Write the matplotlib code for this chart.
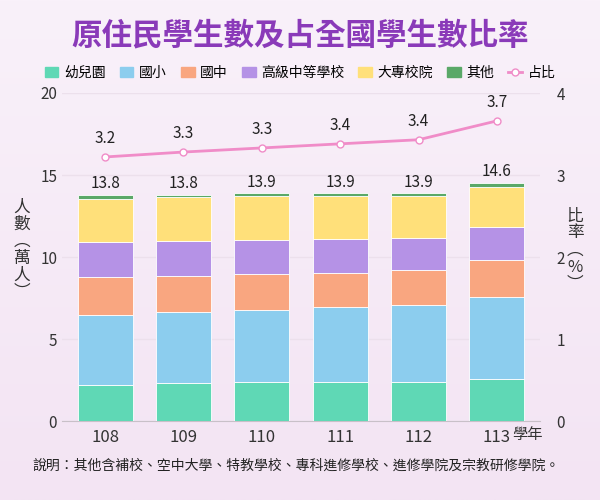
import matplotlib.pyplot as plt
import numpy as np
from matplotlib.lines import Line2D
from matplotlib.patches import Patch

plt.rcParams['font.family'] = 'Noto Sans CJK TC'

years = ['108', '109', '110', '111', '112', '113']
kindergarten = [2.21, 2.32, 2.35, 2.35, 2.40, 2.54]
elementary = [4.27, 4.30, 4.42, 4.58, 4.69, 5.00]
junior_high = [2.28, 2.24, 2.19, 2.11, 2.09, 2.25]
senior_high = [2.15, 2.09, 2.05, 2.03, 1.98, 2.01]
college = [2.60, 2.68, 2.69, 2.63, 2.54, 2.44]
other = [0.29, 0.17, 0.20, 0.20, 0.20, 0.30]
totals = [13.8, 13.8, 13.9, 13.9, 13.9, 14.6]
ratio = [3.22, 3.28, 3.33, 3.38, 3.43, 3.66]

series = [('幼兒園', kindergarten, '#5fd8b5'),
          ('國小', elementary, '#8ccdee'),
          ('國中', junior_high, '#f9a680'),
          ('高級中等學校', senior_high, '#b592e6'),
          ('大專校院', college, '#ffe07a'),
          ('其他', other, '#5aa868')]

fig = plt.figure(figsize=(6, 5), dpi=100)
# soft lavender background
bg = np.linspace(0, 1, 256).reshape(-1, 1)
bg_ax = fig.add_axes([0, 0, 1, 1], zorder=-10)
bg_ax.imshow(bg, aspect='auto', cmap=plt.matplotlib.colors.LinearSegmentedColormap.from_list(
    'bg', ['#f9f1fa', '#f3e4f3']), extent=[0, 1, 0, 1])
bg_ax.axis('off')

ax = fig.add_axes([62 / 600, 79 / 500, 478 / 600, 328 / 500])
ax.patch.set_alpha(0)
x = np.arange(len(years))
bottom = np.zeros(len(years))
for name, vals, col in series:
    ax.bar(x, vals, 0.7, bottom=bottom, color=col, edgecolor='white', linewidth=0.6, label=name, zorder=3)
    bottom += np.array(vals)
for xi, b, t in zip(x, bottom, totals):
    ax.text(xi, b + 0.15, f'{t:.1f}', ha='center', va='bottom', fontsize=11, color='#222222', zorder=5)

ax.set_xlim(-0.55, 5.55)
ax.set_ylim(0, 20)
ax.set_yticks([0, 5, 10, 15, 20])
ax.set_xticks(x)
ax.set_xticklabels(years, fontsize=12)
ax.grid(axis='y', color='#ece0ec', linewidth=1, zorder=0)
for s in ['top', 'right', 'left']:
    ax.spines[s].set_visible(False)
ax.spines['bottom'].set_color('#c8c0c8')
ax.tick_params(axis='both', length=0, labelsize=11, colors='#333333')
ax.tick_params(axis='x', pad=6, labelsize=12)
fig.text(512 / 600, 1 - 434 / 500, '學年', fontsize=11, color='#333333', va='center')

ax2 = ax.twinx()
ax2.set_ylim(0, 4)
ax2.set_yticks([0, 1, 2, 3, 4])
ax2.tick_params(length=0, labelsize=11, colors='#333333', pad=12)
for s in ax2.spines.values():
    s.set_visible(False)
ax2.plot(x, ratio, color='#f08cc8', linewidth=2, marker='o', markersize=5,
         markerfacecolor='white', markeredgecolor='#f08cc8', zorder=6)
for xi, r in zip(x, ratio):
    ax2.text(xi, r + 0.12, f'{r:.1f}', ha='center', va='bottom', fontsize=11, color='#222222')

fig.text(0.5, 1 - 35 / 500, '原住民學生數及占全國學生數比率', ha='center', va='center',
         fontsize=22, fontweight='bold', color='#8a3ab9')
fig.text(22 / 600, 1 - 250 / 500, '人\n數\n︵\n萬\n人\n︶', ha='center', va='center',
         fontsize=12, color='#333333', linespacing=1.0)
fig.text(575 / 600, 1 - 250 / 500, '比\n率\n︵\n%\n︶', ha='center', va='center',
         fontsize=12, color='#333333', linespacing=1.0)

handles = [Patch(color=c, label=n) for n, _, c in series]
handles.append(Line2D([0], [0], color='#f08cc8', linewidth=2, marker='o', markersize=5,
                      markerfacecolor='white', label='占比'))
fig.legend(handles=handles, loc='center', bbox_to_anchor=(0.5, 1 - 73 / 500), ncol=7,
           frameon=False, fontsize=10, handlelength=1.0, handletextpad=0.4, columnspacing=1.0)

fig.text(32 / 600, 1 - 466 / 500, '說明：其他含補校、空中大學、特教學校、專科進修學校、進修學院及宗教研修學院。',
         fontsize=10, color='#222222', va='center')

fig.savefig('out.png', dpi=100)
